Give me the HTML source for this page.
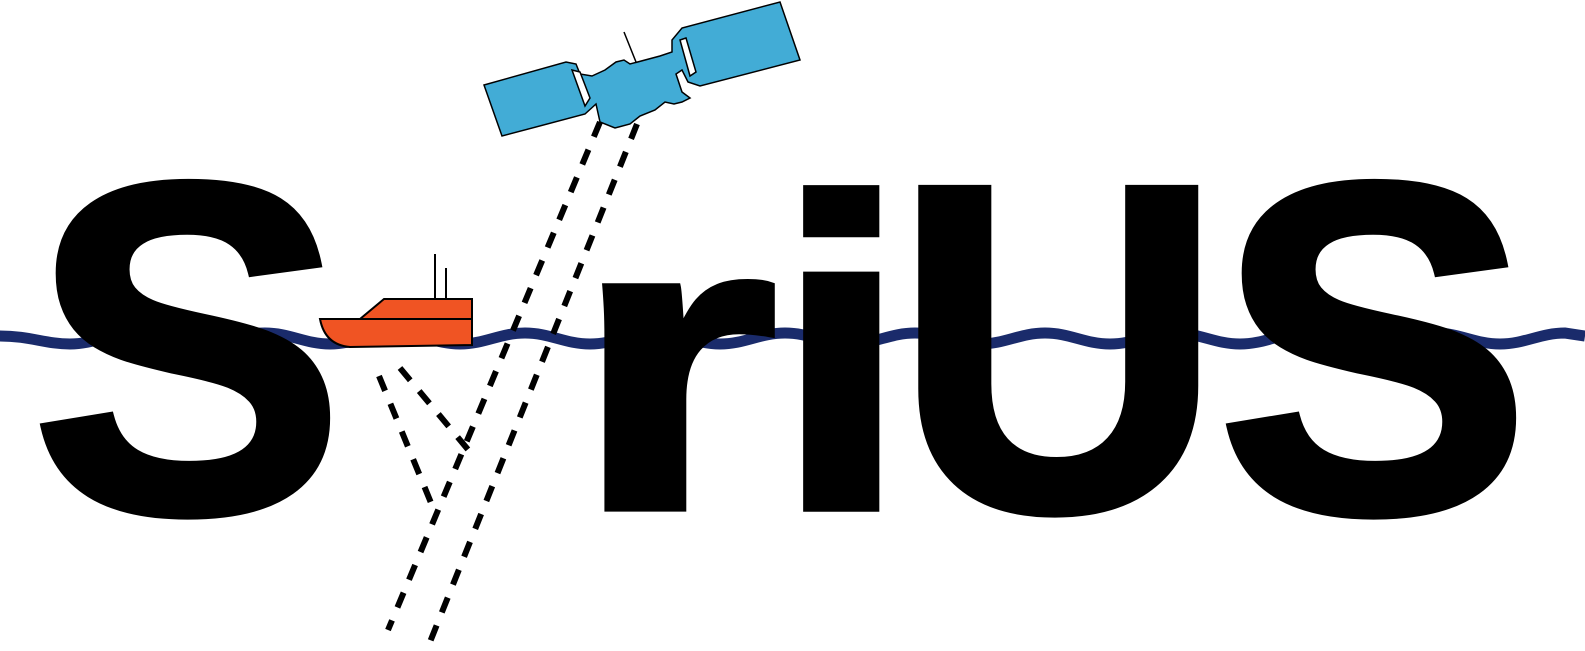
<!DOCTYPE html>
<html><head><meta charset="utf-8"><style>
html,body{margin:0;padding:0;background:#fff;width:1585px;height:651px;overflow:hidden}
</style></head><body>
<svg width="1585" height="651" viewBox="0 0 1585 651" xmlns="http://www.w3.org/2000/svg">
<path d="M0,336 C30,336 45,344 70,344 S110,333 135,333 S175,344 200,344 S240,333 265,333 S305,344 330,344 S370,333 395,333 S435,344 460,344 S500,333 525,333 S565,344 590,344 S630,333 655,333 S695,344 720,344 S760,333 785,333 S825,344 850,344 S890,333 915,333 S955,344 980,344 S1020,333 1045,333 S1085,344 1110,344 S1150,333 1175,333 S1215,344 1240,344 S1280,333 1305,333 S1345,344 1370,344 S1410,333 1435,333 S1475,344 1500,344 S1540,333 1565,333 L1585,336" fill="none" stroke="#1a2b6b" stroke-width="11"/>
<g font-family="'Liberation Sans',Arial,sans-serif" font-weight="bold" fill="#000" stroke="#000" stroke-width="8" stroke-linejoin="miter">
<text x="31" y="511" font-size="470">S</text>
<text transform="translate(572,508) scale(1.147,0.906)" font-size="462">r</text>
<text transform="translate(773,508) scale(1.067,0.953)" font-size="462">i</text>
<text transform="translate(895,509) scale(0.98,1.007)" font-size="462">U</text>
<text x="1217" y="511" font-size="470">S</text>
</g>
<g stroke="#000" stroke-width="6" stroke-dasharray="16,14" fill="none">
<line x1="600" y1="122" x2="388" y2="630"/>
<line x1="637" y1="124" x2="430" y2="642"/>
<line x1="379" y1="376" x2="436" y2="515"/>
<line x1="400" y1="368" x2="470" y2="452"/>
</g>
<g stroke="#000" stroke-width="2">
<line x1="435" y1="254" x2="435" y2="300"/>
<line x1="446" y1="268" x2="446" y2="300"/>
<path d="M360,319 L384,299 L472,299 L472,319 Z" fill="#f05423"/>
<path d="M320,319 L472,319 L472,345 L350,347 Q325,345 320,319 Z" fill="#f05423"/>
</g>
<g stroke="#000" stroke-width="1.5" fill="#42acd6">
<line x1="624" y1="32" x2="636" y2="62"/>
<path d="M484,85 L566,62 L576,64 L580,74 L592,76 L605,70 L616,62 L624,60 L630,64 L660,56 L672,52 L672,40 L682,28 L780,2 L800,60 L700,86 L688,82 L682,70 L676,74 L682,92 L690,98 L682,102 L674,104 L665,102 L655,110 L640,116 L630,124 L615,128 L600,122 L596,104 L585,114 L502,136 Z"/>
<path d="M572,70 L580,72 L590,98 L585,106 Z" fill="#fff"/>
<path d="M680,40 L686,38 L696,72 L690,76 Z" fill="#fff"/>
</g>
</svg>
</body></html>
